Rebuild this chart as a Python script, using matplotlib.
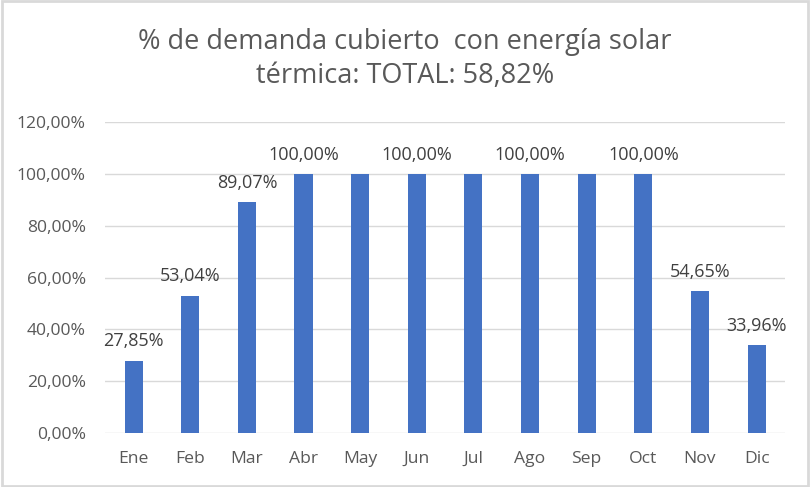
import matplotlib.pyplot as plt
from matplotlib.patches import Rectangle
from matplotlib.ticker import FuncFormatter

months = ['Ene', 'Feb', 'Mar', 'Abr', 'May', 'Jun', 'Jul', 'Ago', 'Sep', 'Oct', 'Nov', 'Dic']
coverage = [27.85, 53.04, 89.07, 100.0, 100.0, 100.0, 100.0, 100.0, 100.0, 100.0, 54.65, 33.96]
# Excel hid the overlapping labels on these months
hidden_labels = ['May', 'Jul', 'Sep']
y_ticks = [0, 20, 40, 60, 80, 100, 120]

plt.rcParams['font.family'] = ['Open Sans', 'DejaVu Sans']

fig = plt.figure(figsize=(8.1, 4.87), dpi=100)
ax = fig.add_axes([0.130, 0.111, 0.839, 0.638])

x = range(len(months))
ax.bar(x, coverage, width=0.32, color='#4472C4', zorder=3)

for i, (m, v) in enumerate(zip(months, coverage)):
    if m in hidden_labels:
        continue
    ax.text(i, v + 4.0, f'{v:.2f}%'.replace('.', ','), ha='center', va='bottom',
            fontsize=13, color='#404040')

ax.set_xlim(-0.5, len(months) - 0.5)
ax.set_ylim(0, 120)
ax.set_yticks(y_ticks)
ax.yaxis.set_major_formatter(FuncFormatter(lambda v, p: f'{v:.2f}%'.replace('.', ',')))
ax.set_xticks(list(x))
ax.set_xticklabels(months)
ax.tick_params(axis='both', length=0, labelsize=12.6, colors='#595959')
ax.tick_params(axis='x', pad=13)
ax.tick_params(axis='y', pad=14)
ax.grid(axis='y', color='#D9D9D9', linewidth=1, zorder=0)
for s in ax.spines.values():
    s.set_visible(False)

fig.text(0.5, 0.913, '% de demanda cubierto  con energía solar', ha='center', va='center',
         fontsize=19.5, color='#595959')
fig.text(0.5, 0.843, 'térmica: TOTAL: 58,82%', ha='center', va='center',
         fontsize=19.5, color='#595959')

fig.patches.append(Rectangle((0.002, 0.003), 0.996, 0.994, transform=fig.transFigure,
                             fill=False, edgecolor='#D9D9D9', linewidth=2))

fig.savefig('out.png', dpi=100)
